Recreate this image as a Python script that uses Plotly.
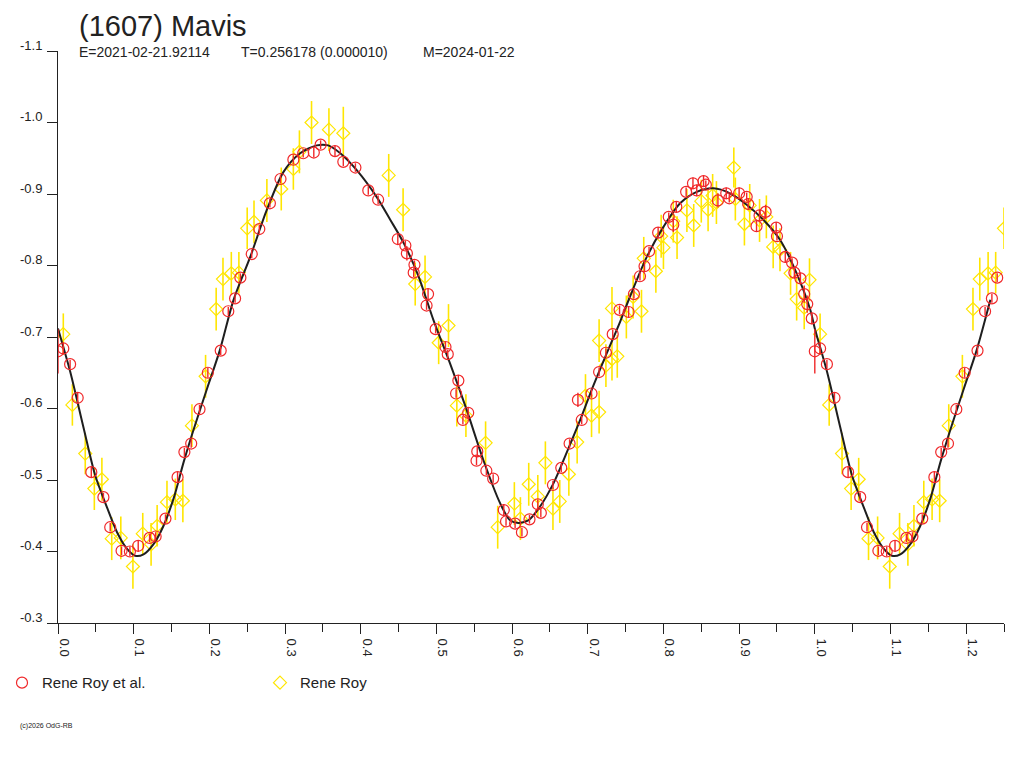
import plotly.graph_objects as go

# Lightcurve of (1607) Mavis, phase-folded
# Rene Roy et al. (red circles)
roy_al_phase = [0.000, 0.007, 0.016, 0.026, 0.044, 0.060, 0.069, 0.084, 0.095, 0.106,
                0.121, 0.129, 0.142, 0.158, 0.167, 0.176, 0.187, 0.198, 0.215, 0.225,
                0.234, 0.241, 0.256, 0.266, 0.280, 0.294, 0.311, 0.324, 0.338, 0.347,
                0.366, 0.377, 0.393, 0.410, 0.423, 0.449, 0.459, 0.461, 0.471, 0.470,
                0.489, 0.487, 0.499, 0.512, 0.515, 0.529, 0.526, 0.542, 0.535, 0.554,
                0.553, 0.566, 0.575, 0.589, 0.592, 0.604, 0.613, 0.623, 0.634, 0.638,
                0.654, 0.665, 0.676, 0.687, 0.692, 0.705, 0.715, 0.724, 0.733, 0.742,
                0.754, 0.761, 0.769, 0.775, 0.781, 0.793, 0.807, 0.813, 0.817, 0.830,
                0.839, 0.844, 0.853, 0.856, 0.872, 0.883, 0.887, 0.900, 0.910, 0.912,
                0.923, 0.927, 0.935, 0.949, 0.950, 0.961, 0.970, 0.973, 0.981, 0.986,
                0.990, 0.996]
roy_al_mag = [-0.680, -0.684, -0.662, -0.615, -0.511, -0.476, -0.434, -0.401, -0.400, -0.408,
              -0.419, -0.421, -0.446, -0.504, -0.539, -0.551, -0.599, -0.650, -0.681, -0.736,
              -0.754, -0.783, -0.816, -0.851, -0.887, -0.921, -0.948, -0.957, -0.958, -0.969,
              -0.960, -0.945, -0.937, -0.905, -0.892, -0.837, -0.828, -0.817, -0.801, -0.790,
              -0.760, -0.744, -0.711, -0.686, -0.676, -0.639, -0.621, -0.594, -0.584, -0.540,
              -0.527, -0.513, -0.502, -0.458, -0.442, -0.439, -0.427, -0.445, -0.466, -0.454,
              -0.493, -0.517, -0.551, -0.612, -0.584, -0.621, -0.651, -0.678, -0.704, -0.738,
              -0.735, -0.760, -0.785, -0.799, -0.820, -0.846, -0.868, -0.857, -0.882, -0.903,
              -0.915, -0.905, -0.918, -0.913, -0.891, -0.901, -0.894, -0.901, -0.896, -0.886,
              -0.855, -0.870, -0.875, -0.853, -0.841, -0.812, -0.804, -0.790, -0.782, -0.760,
              -0.746, -0.726]
roy_al_err = [0.031, 0.008, 0.006, 0.007, 0.008, 0.006, 0.006, 0.006, 0.007, 0.008,
              0.006, 0.006, 0.006, 0.008, 0.006, 0.006, 0.006, 0.007, 0.006, 0.006,
              0.006, 0.006, 0.006, 0.006, 0.006, 0.006, 0.006, 0.006, 0.007, 0.006,
              0.008, 0.006, 0.006, 0.006, 0.006, 0.007, 0.007, 0.010, 0.006, 0.006,
              0.008, 0.006, 0.006, 0.007, 0.006, 0.008, 0.006, 0.008, 0.006, 0.008,
              0.006, 0.006, 0.006, 0.008, 0.006, 0.006, 0.006, 0.006, 0.006, 0.006,
              0.006, 0.006, 0.006, 0.010, 0.006, 0.006, 0.006, 0.006, 0.006, 0.006,
              0.008, 0.006, 0.006, 0.008, 0.006, 0.008, 0.006, 0.010, 0.008, 0.006,
              0.008, 0.008, 0.008, 0.006, 0.010, 0.008, 0.006, 0.008, 0.006, 0.008,
              0.008, 0.008, 0.010, 0.008, 0.006, 0.008, 0.006, 0.008, 0.008, 0.012,
              0.012, 0.008]

# Rene Roy (yellow diamonds)
roy_phase = [0.007, 0.019, 0.036, 0.048, 0.058, 0.071, 0.083, 0.099, 0.112, 0.123,
             0.131, 0.144, 0.155, 0.165, 0.177, 0.195, 0.209, 0.218, 0.229, 0.239,
             0.250, 0.259, 0.276, 0.295, 0.311, 0.319, 0.335, 0.358, 0.377, 0.437,
             0.456, 0.472, 0.485, 0.503, 0.516, 0.527, 0.539, 0.565, 0.581, 0.603,
             0.611, 0.622, 0.634, 0.644, 0.654, 0.663, 0.675, 0.686, 0.697, 0.705,
             0.715, 0.715, 0.724, 0.732, 0.732, 0.739, 0.751, 0.760, 0.771, 0.774,
             0.790, 0.797, 0.800, 0.813, 0.818, 0.831, 0.840, 0.850, 0.859, 0.865,
             0.870, 0.893, 0.895, 0.907, 0.914, 0.927, 0.936, 0.945, 0.954, 0.968,
             0.976, 0.986, 0.993]
roy_mag = [-0.704, -0.605, -0.537, -0.488, -0.501, -0.418, -0.419, -0.379, -0.425, -0.410,
           -0.436, -0.469, -0.473, -0.471, -0.576, -0.645, -0.739, -0.781, -0.789, -0.790,
           -0.852, -0.861, -0.891, -0.907, -0.935, -0.959, -1.000, -0.990, -0.985, -0.926,
           -0.878, -0.774, -0.784, -0.692, -0.716, -0.604, -0.590, -0.552, -0.434, -0.467,
           -0.446, -0.494, -0.477, -0.524, -0.460, -0.470, -0.508, -0.553, -0.618, -0.590,
           -0.595, -0.695, -0.660, -0.669, -0.740, -0.673, -0.728, -0.756, -0.736, -0.810,
           -0.792, -0.841, -0.825, -0.862, -0.839, -0.877, -0.856, -0.890, -0.878, -0.898,
           -0.888, -0.937, -0.893, -0.858, -0.884, -0.863, -0.868, -0.826, -0.822, -0.789,
           -0.753, -0.741, -0.780]
roy_err = [0.029, 0.029, 0.029, 0.030, 0.030, 0.030, 0.030, 0.031, 0.029, 0.030,
           0.029, 0.030, 0.029, 0.030, 0.030, 0.030, 0.030, 0.030, 0.030, 0.029,
           0.029, 0.030, 0.030, 0.030, 0.029, 0.030, 0.030, 0.030, 0.037, 0.030,
           0.030, 0.030, 0.030, 0.030, 0.030, 0.029, 0.030, 0.030, 0.030, 0.030,
           0.030, 0.030, 0.030, 0.030, 0.030, 0.030, 0.030, 0.030, 0.030, 0.030,
           0.030, 0.030, 0.030, 0.030, 0.030, 0.030, 0.030, 0.030, 0.030, 0.030,
           0.030, 0.030, 0.030, 0.030, 0.030, 0.030, 0.030, 0.030, 0.030, 0.030,
           0.030, 0.028, 0.030, 0.030, 0.030, 0.030, 0.030, 0.030, 0.030, 0.030,
           0.030, 0.030, 0.030]

# Fitted curve
fit_phase = [0.000, 0.016, 0.034, 0.049, 0.065, 0.078, 0.091, 0.102, 0.113, 0.126,
             0.139, 0.153, 0.166, 0.179, 0.197, 0.214, 0.232, 0.254, 0.276, 0.298,
             0.320, 0.342, 0.357, 0.373, 0.395, 0.421, 0.439, 0.457, 0.476, 0.496,
             0.518, 0.540, 0.562, 0.584, 0.597, 0.608, 0.622, 0.637, 0.655, 0.672,
             0.690, 0.707, 0.725, 0.743, 0.756, 0.778, 0.800, 0.822, 0.844, 0.866,
             0.888, 0.910, 0.932, 0.954, 0.976, 0.994]
fit_mag = [-0.712, -0.652, -0.572, -0.507, -0.461, -0.427, -0.404, -0.394, -0.396, -0.410,
           -0.435, -0.475, -0.525, -0.570, -0.628, -0.682, -0.752, -0.812, -0.878, -0.931,
           -0.957, -0.968, -0.968, -0.957, -0.933, -0.896, -0.864, -0.831, -0.786, -0.724,
           -0.663, -0.598, -0.528, -0.468, -0.444, -0.440, -0.444, -0.463, -0.496, -0.538,
           -0.584, -0.631, -0.677, -0.722, -0.757, -0.812, -0.854, -0.887, -0.903, -0.908,
           -0.901, -0.885, -0.864, -0.836, -0.789, -0.738]

PHASE_MAX = 1.25
title_text = "(1607) Mavis"
info_parts = ["E=2021-02-21.92114", "T=0.256178 (0.000010)", "M=2024-01-22"]
info_x = [0.0199, 0.1909, 0.3841]   # left edges, paper fraction
y_ticks = [-1.1, -1.0, -0.9, -0.8, -0.7, -0.6, -0.5, -0.4, -0.3]
x_ticks = [0.0, 0.1, 0.2, 0.3, 0.4, 0.5, 0.6, 0.7, 0.8, 0.9, 1.0, 1.1, 1.2]


def extend(phase, mag, err=None):
    """repeat the start of the cycle after phase 1"""
    xs, ys, es = list(phase), list(mag), list(err) if err else None
    for i, p in enumerate(phase):
        if p + 1 <= PHASE_MAX:
            xs.append(p + 1)
            ys.append(mag[i])
            if es is not None:
                es.append(err[i])
    return xs, ys, es


RED = "#f0282a"
YELLOW = "#ffe600"
INK = "#222222"
FONT = "Liberation Sans, Arial, sans-serif"

fig = go.Figure()

x, y, e = extend(roy_phase, roy_mag, roy_err)
fig.add_trace(go.Scatter(x=x, y=y, mode='markers', name='Rene Roy',
                         marker=dict(symbol='diamond-open', size=10, color=YELLOW, line=dict(width=1.2)),
                         error_y=dict(type='data', array=e, color=YELLOW, thickness=1.6, width=0),
                         legendrank=2))

x, y, _ = extend(fit_phase, fit_mag)
xy = sorted(zip(x, y))
fig.add_trace(go.Scatter(x=[p for p, _ in xy], y=[m for _, m in xy], mode='lines',
                         line=dict(color='#1e1e1e', width=2, shape='spline', smoothing=0.8),
                         showlegend=False, hoverinfo='skip'))

x, y, e = extend(roy_al_phase, roy_al_mag, roy_al_err)
fig.add_trace(go.Scatter(x=x, y=y, mode='markers', name='Rene Roy et al.',
                         marker=dict(symbol='circle-open', size=11, color=RED, line=dict(width=1.2)),
                         error_y=dict(type='data', array=e, color=RED, thickness=1.4, width=0),
                         legendrank=1))

annotations = [
    dict(text=title_text, xref='paper', yref='paper', x=0.0199, y=1.0,
         xanchor='left', yanchor='top', yshift=43, showarrow=False,
         font=dict(size=29, color=INK)),
    dict(text="(c)2026 OdG-RB", xref='paper', yref='paper', x=-0.0423, y=-0.18,
         xanchor='left', yanchor='middle', showarrow=False,
         font=dict(size=7, color=INK)),
]
for part, px in zip(info_parts, info_x):
    annotations.append(dict(text=part, xref='paper', yref='paper', x=px, y=1.0,
                            xanchor='left', yanchor='middle', yshift=-1, showarrow=False,
                            font=dict(size=14, color=INK)))

# the page body adds 8px on the left and top, so the figure is 8px smaller
fig.update_layout(
    width=1016, height=760,
    margin=dict(l=50, r=20, t=43, b=145, autoexpand=False),
    paper_bgcolor='white', plot_bgcolor='white',
    font=dict(family=FONT, size=13, color=INK),
    xaxis=dict(range=[0, PHASE_MAX], showgrid=False, zeroline=False, automargin=False,
               showline=True, linecolor=INK, linewidth=1,
               tickvals=x_ticks, ticktext=[f"{v:.1f}" for v in x_ticks],
               ticks='outside', ticklen=10, tickcolor=INK, tickangle=90,
               ticklabelshift=6, ticklabelstandoff=2,
               minor=dict(dtick=0.05, ticks='outside', ticklen=8, tickcolor=INK)),
    yaxis=dict(range=[-0.3, -1.1], showgrid=False, zeroline=False, automargin=False,
               showline=True, linecolor=INK, linewidth=1,
               tickvals=y_ticks, ticktext=[f"{v:.1f}" for v in y_ticks],
               ticks='outside', ticklen=10, tickcolor=INK,
               ticklabelshift=6, ticklabelstandoff=2),
    legend=dict(orientation='h', xref='container', yref='container',
                x=0.0, xanchor='left', y=0.112, yanchor='middle', indentation=-6,
                font=dict(size=15, color=INK), entrywidth=219, entrywidthmode='pixels',
                bgcolor='rgba(0,0,0,0)'),
    showlegend=True,
    annotations=annotations,
)

fig.write_html("out.html")
